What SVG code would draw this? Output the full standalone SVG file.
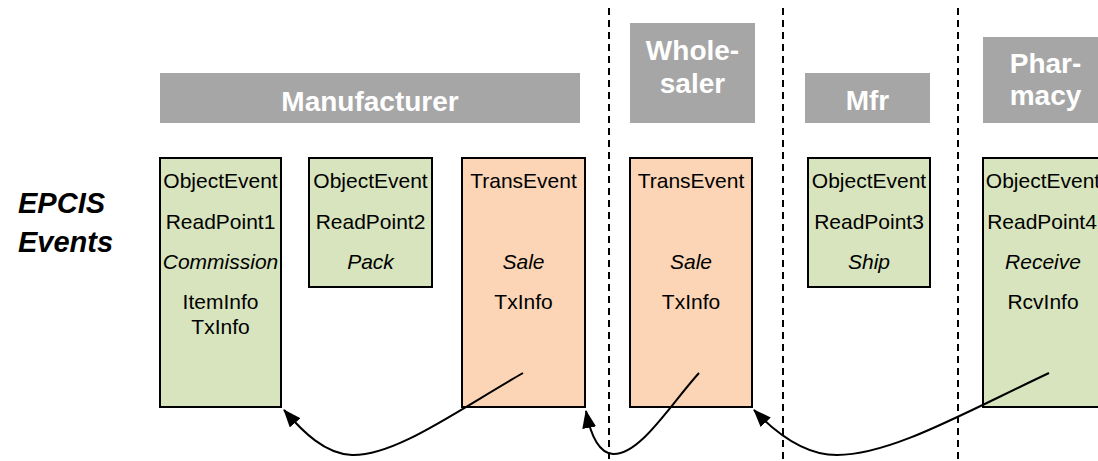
<svg xmlns="http://www.w3.org/2000/svg" width="1098" height="461" viewBox="0 0 1098 461">
  <style>
    .hdr { fill: #A6A6A6; }
    .hdr-t { font-family: "Liberation Sans", Arial, sans-serif; font-weight: bold; font-size: 28px; fill: #FFFFFF; text-anchor: middle; }
    .obj { fill: #D7E4BD; stroke: #000; stroke-width: 2; }
    .trn { fill: #FBD5B5; stroke: #000; stroke-width: 2; }
    .t { font-family: "Liberation Sans", Arial, sans-serif; font-size: 21px; fill: #000; text-anchor: middle; }
    .i { font-style: italic; }
    .lane { stroke: #000; stroke-width: 2; stroke-dasharray: 7 5; fill: none; }
    .link { stroke: #000; stroke-width: 2; fill: none; marker-end: url(#head); }
    .side { font-family: "Liberation Sans", Arial, sans-serif; font-weight: bold; font-style: italic; font-size: 29px; fill: #000; }
  </style>
  <defs>
    <marker id="head" viewBox="0 0 18 14" refX="17" refY="7" markerWidth="18" markerHeight="14" markerUnits="userSpaceOnUse" orient="auto">
      <path d="M0,0 L18,7 L0,14 z" fill="#000"/>
    </marker>
  </defs>

  <rect width="1098" height="461" fill="#FFFFFF"/>

  <!-- lane separators -->
  <g id="lanes">
    <line class="lane" x1="609" y1="8" x2="609" y2="461"/>
    <line class="lane" x1="783" y1="8" x2="783" y2="461"/>
    <line class="lane" x1="958" y1="8" x2="958" y2="461"/>
  </g>

  <!-- row label -->
  <g id="row-label">
    <text class="side" x="18" y="213">EPCIS</text>
    <text class="side" x="18" y="252">Events</text>
  </g>

  <!-- party headers -->
  <g id="hdr-manufacturer">
    <rect class="hdr" x="160" y="73" width="420" height="50"/>
    <text class="hdr-t" x="370" y="111">Manufacturer</text>
  </g>
  <g id="hdr-wholesaler">
    <rect class="hdr" x="630" y="23" width="125" height="100"/>
    <text class="hdr-t" x="692.5" y="60">Whole-</text>
    <text class="hdr-t" x="692.5" y="93">saler</text>
  </g>
  <g id="hdr-mfr">
    <rect class="hdr" x="805" y="73" width="125" height="50"/>
    <text class="hdr-t" x="867.5" y="110">Mfr</text>
  </g>
  <g id="hdr-pharmacy">
    <rect class="hdr" x="983" y="37" width="125" height="86"/>
    <text class="hdr-t" x="1045.5" y="73">Phar-</text>
    <text class="hdr-t" x="1045.5" y="105">macy</text>
  </g>

  <!-- events -->
  <g id="ev-commission">
    <rect class="obj" x="160" y="158" width="121" height="249"/>
    <text class="t" x="220.5" y="188">ObjectEvent</text>
    <text class="t" x="220.5" y="229">ReadPoint1</text>
    <text class="t i" x="220.5" y="269">Commission</text>
    <text class="t" x="220.5" y="309">ItemInfo</text>
    <text class="t" x="220.5" y="334">TxInfo</text>
  </g>
  <g id="ev-pack">
    <rect class="obj" x="309" y="158" width="123" height="129"/>
    <text class="t" x="370.5" y="188">ObjectEvent</text>
    <text class="t" x="370.5" y="229">ReadPoint2</text>
    <text class="t i" x="370.5" y="269">Pack</text>
  </g>
  <g id="ev-sale-mfr">
    <rect class="trn" x="462" y="158" width="123" height="249"/>
    <text class="t" x="523.5" y="188">TransEvent</text>
    <text class="t i" x="523.5" y="269">Sale</text>
    <text class="t" x="523.5" y="309">TxInfo</text>
  </g>
  <g id="ev-sale-whs">
    <rect class="trn" x="630" y="158" width="122" height="249"/>
    <text class="t" x="691" y="188">TransEvent</text>
    <text class="t i" x="691" y="269">Sale</text>
    <text class="t" x="691" y="309">TxInfo</text>
  </g>
  <g id="ev-ship">
    <rect class="obj" x="808" y="158" width="122" height="129"/>
    <text class="t" x="869" y="188">ObjectEvent</text>
    <text class="t" x="869" y="229">ReadPoint3</text>
    <text class="t i" x="869" y="269">Ship</text>
  </g>
  <g id="ev-receive">
    <rect class="obj" x="983" y="158" width="125" height="249"/>
    <text class="t" x="1043" y="188">ObjectEvent</text>
    <text class="t" x="1042" y="229">ReadPoint4</text>
    <text class="t i" x="1043" y="269">Receive</text>
    <text class="t" x="1043" y="309">RcvInfo</text>
  </g>

  <!-- references back to earlier events -->
  <g id="connectors">
    <path class="link" d="M523,373 C455,412 395,456 352,455 C325,454 303,432 284,410"/>
    <path class="link" d="M699,373 C670,405 640,455 613,454 C598,453 590,432 586,411"/>
    <path class="link" d="M1049,373 C960,415 890,455 837,455 C805,455 775,432 754,410"/>
  </g>
</svg>
